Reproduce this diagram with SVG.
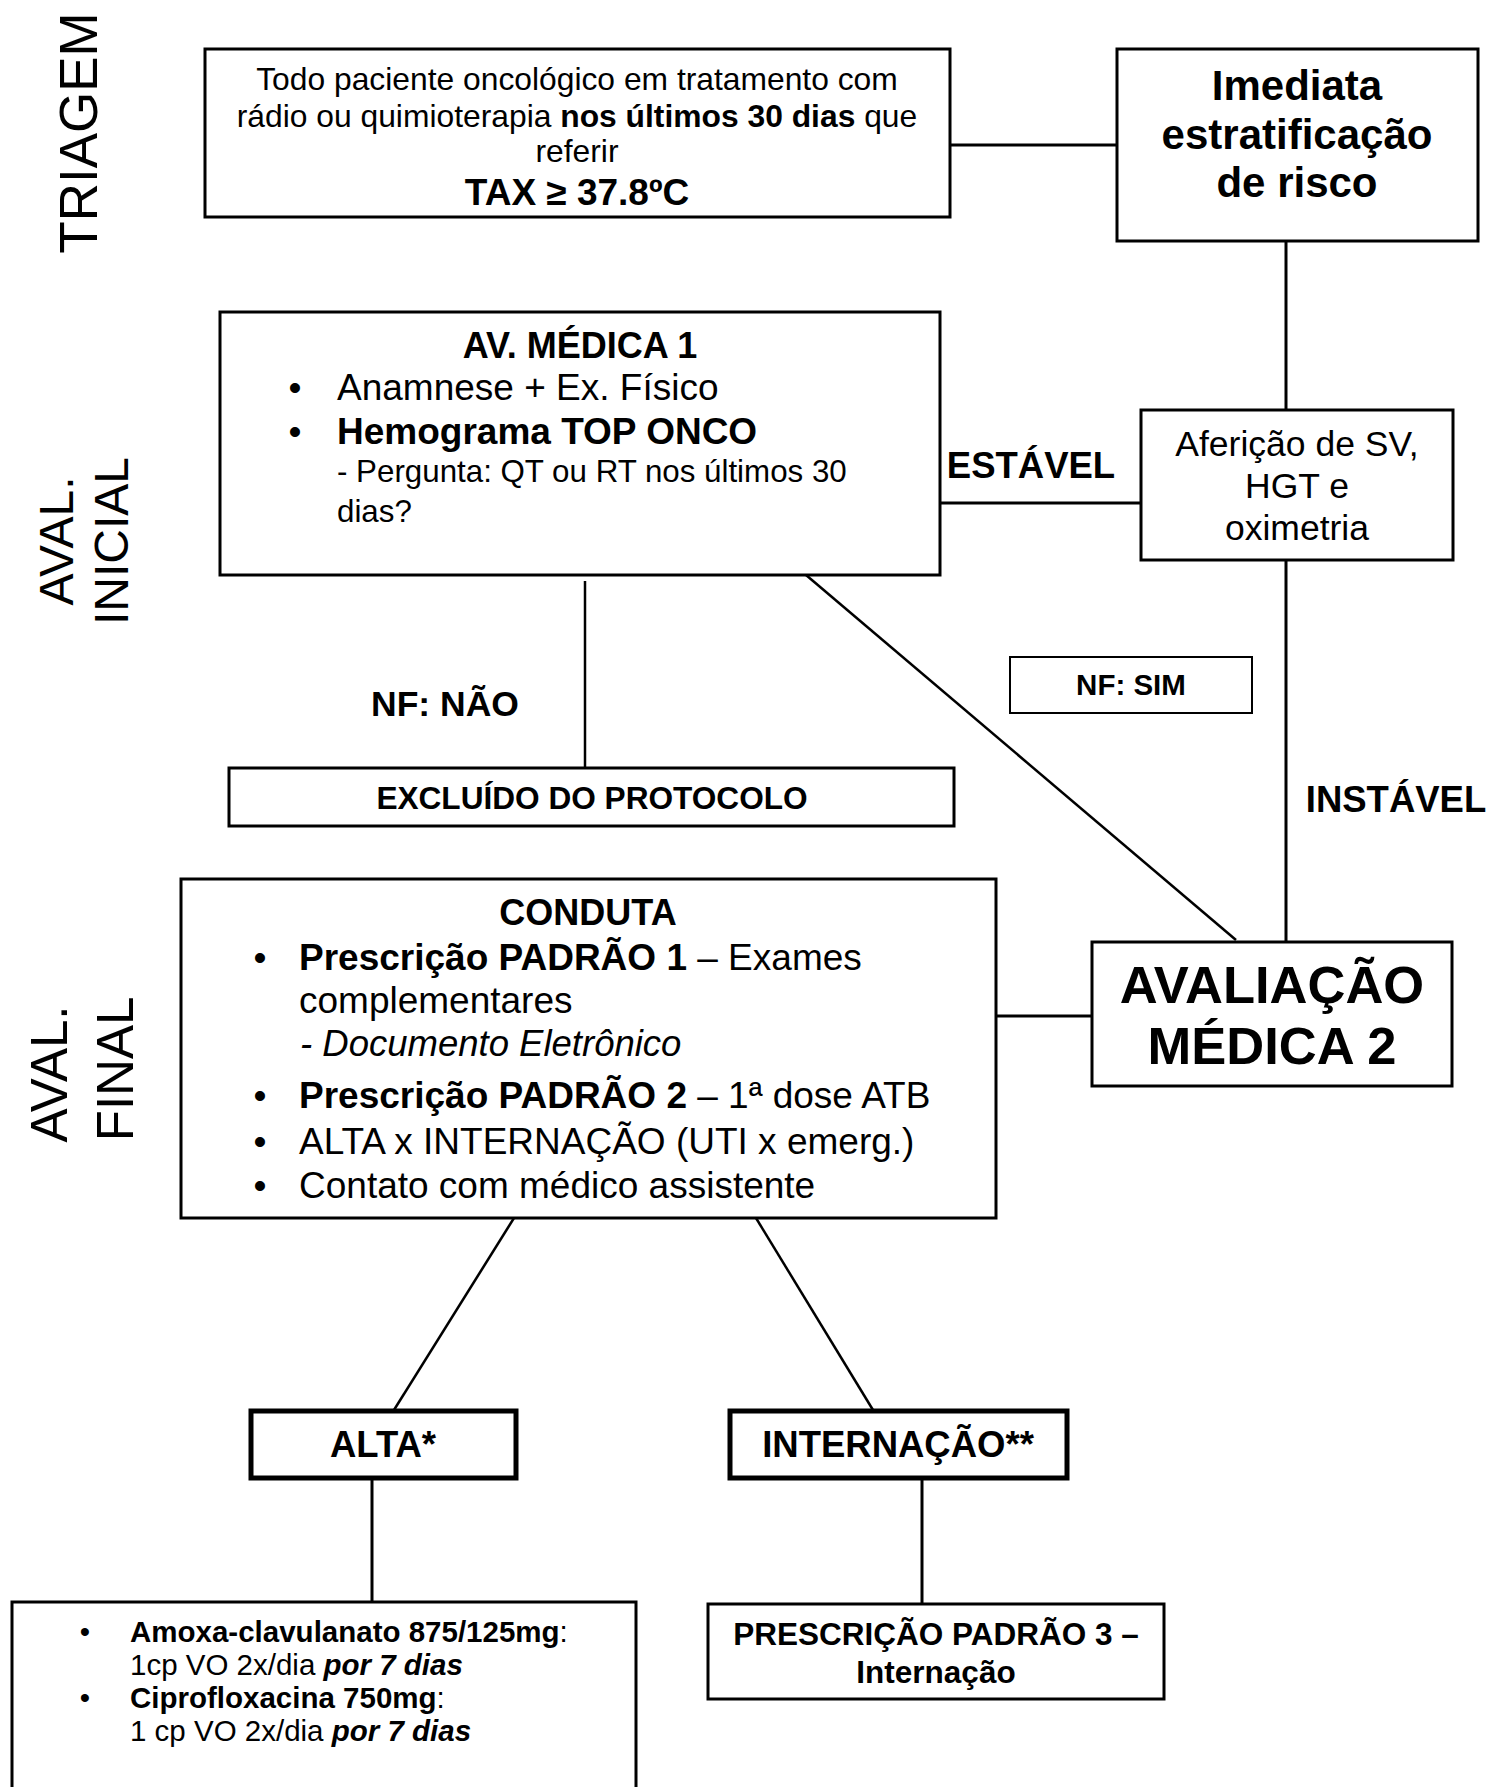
<svg xmlns="http://www.w3.org/2000/svg" width="1490" height="1787" viewBox="0 0 1490 1787">
<style>
text{font-family:"Liberation Sans",Arial,sans-serif;fill:#000}
.b{font-weight:bold}
.i{font-style:italic}
.box{fill:#fff;stroke:#000;stroke-width:3}
.tbox{fill:#fff;stroke:#000;stroke-width:5}
.ln{stroke:#000;stroke-width:3;fill:none}
.lt{stroke:#000;stroke-width:2.5;fill:none}
.side{font-size:50px}
</style>
<rect width="1490" height="1787" fill="#fff"/>
<g id="side-labels">
<text class="side" text-anchor="middle" transform="translate(97,133) rotate(-90)" style="font-size:53px">TRIAGEM</text>
<text class="side" text-anchor="middle" transform="translate(73,541) rotate(-90)" style="font-size:48px">AVAL.</text>
<text class="side" text-anchor="middle" transform="translate(128,541) rotate(-90)" style="font-size:48px">INICIAL</text>
<text class="side" text-anchor="middle" transform="translate(67,1074) rotate(-90)" style="font-size:51px">AVAL.</text>
<text class="side" text-anchor="middle" transform="translate(133,1069) rotate(-90)" style="font-size:51px">FINAL</text>
</g>
<g id="connectors">
<line class="ln" x1="950" y1="145" x2="1116" y2="145"/>
<line class="ln" x1="1286" y1="241" x2="1286" y2="410"/>
<line class="ln" x1="940" y1="503" x2="1141" y2="503"/>
<line class="ln" x1="1286" y1="557" x2="1286" y2="942"/>
<line class="lt" x1="806" y1="575" x2="1236" y2="940"/>
<line class="lt" x1="585" y1="581" x2="585" y2="768"/>
<line class="ln" x1="996" y1="1016" x2="1093" y2="1016"/>
<line class="lt" x1="514" y1="1218" x2="394" y2="1410"/>
<line class="lt" x1="756" y1="1218" x2="873" y2="1410"/>
<line class="ln" x1="372" y1="1479" x2="372" y2="1602"/>
<line class="ln" x1="922" y1="1479" x2="922" y2="1604"/>
</g>
<g id="edge-labels">
<text class="b" x="1031" y="478" text-anchor="middle" font-size="36.5">ESTÁVEL</text>
<text class="b" x="445" y="716" text-anchor="middle" font-size="35.5">NF: NÃO</text>
<text class="b" x="1396" y="812" text-anchor="middle" font-size="36.5">INSTÁVEL</text>
</g>
<g id="n-triagem">
<rect class="box" x="205" y="49" width="745" height="168"/>
<text x="577" y="90" text-anchor="middle" font-size="31.8">Todo paciente oncológico em tratamento com</text>
<text x="577" y="127" text-anchor="middle" font-size="31.8">rádio ou quimioterapia <tspan class="b">nos últimos 30 dias</tspan> que</text>
<text x="577" y="162" text-anchor="middle" font-size="31.8">referir</text>
<text class="b" x="577" y="205" text-anchor="middle" font-size="37">TAX ≥ 37.8ºC</text>
</g>
<g id="n-imediata">
<rect class="box" x="1117" y="49" width="361" height="192"/>
<text class="b" x="1297" y="100" text-anchor="middle" font-size="42">Imediata</text>
<text class="b" x="1297" y="149" text-anchor="middle" font-size="42">estratificação</text>
<text class="b" x="1297" y="197" text-anchor="middle" font-size="42">de risco</text>
</g>
<g id="n-av1">
<rect class="box" x="220" y="312" width="720" height="263"/>
<text class="b" x="580" y="358" text-anchor="middle" font-size="36">AV. MÉDICA 1</text>
<text x="295" y="400" text-anchor="middle" font-size="37">•</text>
<text x="337" y="400" font-size="37">Anamnese + Ex. Físico</text>
<text x="295" y="444" text-anchor="middle" font-size="37">•</text>
<text class="b" x="337" y="444" font-size="37">Hemograma TOP ONCO</text>
<text x="337" y="482" font-size="31.3">- Pergunta: QT ou RT nos últimos 30</text>
<text x="337" y="522" font-size="31.3">dias?</text>
</g>
<g id="n-afericao">
<rect class="box" x="1141" y="410" width="312" height="150"/>
<text x="1297" y="456" text-anchor="middle" font-size="35.5">Aferição de SV,</text>
<text x="1297" y="498" text-anchor="middle" font-size="35.5">HGT e</text>
<text x="1297" y="540" text-anchor="middle" font-size="35.5">oximetria</text>
</g>
<g id="n-nfsim">
<rect class="box" x="1010" y="657" width="242" height="56" style="stroke-width:2"/>
<text class="b" x="1131" y="695" text-anchor="middle" font-size="29.5">NF: SIM</text>
</g>
<g id="n-excluido">
<rect class="box" x="229" y="768" width="725" height="58"/>
<text class="b" x="592" y="809" text-anchor="middle" font-size="31.6">EXCLUÍDO DO PROTOCOLO</text>
</g>
<g id="n-conduta">
<rect class="box" x="181" y="879" width="815" height="339"/>
<text class="b" x="588" y="925" text-anchor="middle" font-size="36">CONDUTA</text>
<text x="260" y="970" text-anchor="middle" font-size="37">•</text>
<text x="299" y="970" font-size="37"><tspan class="b">Prescrição PADRÃO 1</tspan> – Exames</text>
<text x="299" y="1013" font-size="37">complementares</text>
<text x="300" y="1056" font-size="36.5" class="i">- Documento Eletrônico</text>
<text x="260" y="1108" text-anchor="middle" font-size="37">•</text>
<text x="299" y="1108" font-size="37"><tspan class="b">Prescrição PADRÃO 2</tspan> – 1ª dose ATB</text>
<text x="260" y="1154" text-anchor="middle" font-size="37">•</text>
<text x="299" y="1154" font-size="37">ALTA x INTERNAÇÃO (UTI x emerg.)</text>
<text x="260" y="1198" text-anchor="middle" font-size="37">•</text>
<text x="299" y="1198" font-size="37">Contato com médico assistente</text>
</g>
<g id="n-av2">
<rect class="box" x="1092" y="942" width="360" height="144"/>
<text class="b" x="1272" y="1003" text-anchor="middle" font-size="52.5">AVALIAÇÃO</text>
<text class="b" x="1272" y="1064" text-anchor="middle" font-size="52.5">MÉDICA 2</text>
</g>
<g id="n-alta">
<rect class="tbox" x="251" y="1411" width="265" height="67"/>
<text class="b" x="383" y="1457" text-anchor="middle" font-size="36.5">ALTA*</text>
</g>
<g id="n-internacao">
<rect class="tbox" x="730" y="1411" width="337" height="67"/>
<text class="b" x="898" y="1457" text-anchor="middle" font-size="36.5">INTERNAÇÃO**</text>
</g>
<g id="n-alta-presc">
<rect class="box" x="12" y="1602" width="624" height="200"/>
<text x="85" y="1642" text-anchor="middle" font-size="29.5">•</text>
<text x="130" y="1642" font-size="29.5"><tspan class="b">Amoxa-clavulanato 875/125mg</tspan>:</text>
<text x="130" y="1675" font-size="29.5">1cp VO 2x/dia <tspan class="b i">por 7 dias</tspan></text>
<text x="85" y="1708" text-anchor="middle" font-size="29.5">•</text>
<text x="130" y="1708" font-size="29.5"><tspan class="b">Ciprofloxacina 750mg</tspan>:</text>
<text x="130" y="1741" font-size="29.5">1 cp VO 2x/dia <tspan class="b i">por 7 dias</tspan></text>
</g>
<g id="n-presc3">
<rect class="box" x="708" y="1604" width="456" height="95"/>
<text class="b" x="936" y="1645" text-anchor="middle" font-size="31.5">PRESCRIÇÃO PADRÃO 3 –</text>
<text class="b" x="936" y="1683" text-anchor="middle" font-size="31.5">Internação</text>
</g>
</svg>
